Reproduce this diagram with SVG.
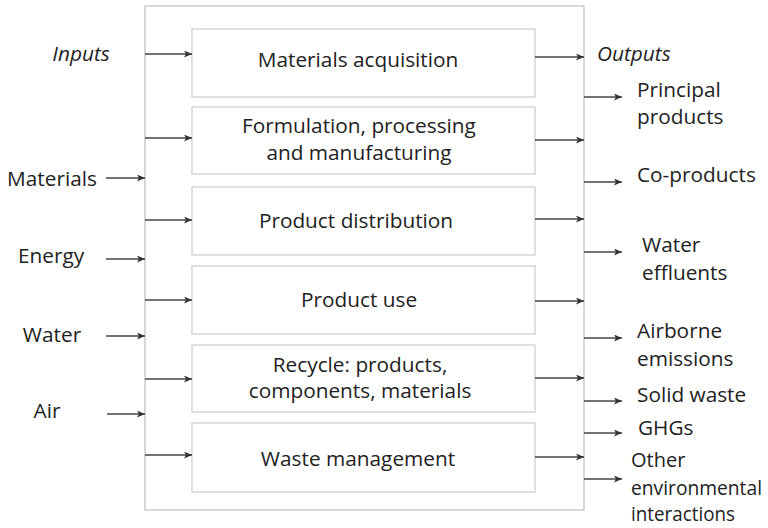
<svg xmlns="http://www.w3.org/2000/svg" width="768" height="528" viewBox="0 0 768 528">
<style>
.t{font-family:"Open Sans","Noto Sans","Liberation Sans",sans-serif;font-size:20.8px;fill:#222}
.s{font-size:20px}
.c{text-anchor:middle}
.i{font-style:italic}
.box{fill:#fff;stroke:#cfcfcf;stroke-width:1.3}
.outer{fill:#fff;stroke:#c4c4c4;stroke-width:1.3}
.a{stroke:#444;stroke-width:1.4;fill:none;marker-end:url(#ah)}
</style>
<defs>
<marker id="ah" markerUnits="userSpaceOnUse" markerWidth="9" markerHeight="8" refX="8" refY="3.5" orient="auto">
<path d="M0,0 L8,3.5 L0,7 L2,3.5 Z" fill="#333"/>
</marker>
</defs>
<rect width="768" height="528" fill="#fff"/>
<g id="frame"><rect class="outer" x="145" y="6" width="439" height="504"/></g>
<g id="n1"><rect class="box" x="192" y="29" width="343" height="68"/><text class="t c" x="358" y="67">Materials acquisition</text></g>
<g id="n2"><rect class="box" x="192" y="107" width="343" height="67"/><text class="t c" x="359" y="133">Formulation, processing</text><text class="t c" x="359" y="160">and manufacturing</text></g>
<g id="n3"><rect class="box" x="192" y="187" width="343" height="68"/><text class="t c" x="356" y="228">Product distribution</text></g>
<g id="n4"><rect class="box" x="192" y="266" width="343" height="68"/><text class="t c" x="359" y="307">Product use</text></g>
<g id="n5"><rect class="box" x="192" y="345" width="343" height="67"/><text class="t c" x="360" y="372">Recycle: products,</text><text class="t c" x="360" y="398">components, materials</text></g>
<g id="n6"><rect class="box" x="192" y="423" width="343" height="69"/><text class="t c" x="358" y="466">Waste management</text></g>
<g id="inputs">
<text class="t c i" x="81" y="61">Inputs</text>
<text class="t c" x="52" y="186">Materials</text>
<text class="t c" x="51" y="263">Energy</text>
<text class="t c" x="52" y="342">Water</text>
<text class="t c" x="47" y="418">Air</text>
</g>
<g id="outputs">
<text class="t i" x="597" y="61">Outputs</text>
<text class="t" x="637" y="97">Principal</text>
<text class="t" x="637" y="124">products</text>
<text class="t" x="637" y="182">Co-products</text>
<text class="t" x="642" y="252">Water</text>
<text class="t" x="642" y="280">effluents</text>
<text class="t" x="637" y="338">Airborne</text>
<text class="t" x="637" y="366">emissions</text>
<text class="t" x="637" y="402">Solid waste</text>
<text class="t" x="638" y="435">GHGs</text>
<text class="t s" x="631" y="467">Other</text>
<text class="t s" x="631" y="495" textLength="131" lengthAdjust="spacingAndGlyphs">environmental</text>
<text class="t s" x="631" y="521" textLength="104" lengthAdjust="spacingAndGlyphs">interactions</text>
</g>
<g id="connectors">
<line class="a" x1="106" y1="178" x2="145" y2="178"/>
<line class="a" x1="106" y1="259" x2="145" y2="259"/>
<line class="a" x1="106" y1="336" x2="145" y2="336"/>
<line class="a" x1="107" y1="414" x2="145" y2="414"/>
<line class="a" x1="145" y1="54" x2="192" y2="54"/>
<line class="a" x1="145" y1="138" x2="192" y2="138"/>
<line class="a" x1="145" y1="220" x2="192" y2="220"/>
<line class="a" x1="145" y1="300" x2="192" y2="300"/>
<line class="a" x1="145" y1="379" x2="192" y2="379"/>
<line class="a" x1="145" y1="455" x2="192" y2="455"/>
<line class="a" x1="535" y1="57" x2="584" y2="57"/>
<line class="a" x1="535" y1="140" x2="584" y2="140"/>
<line class="a" x1="535" y1="219" x2="584" y2="219"/>
<line class="a" x1="535" y1="301" x2="584" y2="301"/>
<line class="a" x1="535" y1="378" x2="584" y2="378"/>
<line class="a" x1="535" y1="457" x2="584" y2="457"/>
<line class="a" x1="584" y1="97" x2="622" y2="97"/>
<line class="a" x1="584" y1="182" x2="622" y2="182"/>
<line class="a" x1="584" y1="252" x2="622" y2="252"/>
<line class="a" x1="584" y1="338" x2="622" y2="338"/>
<line class="a" x1="584" y1="401" x2="622" y2="401"/>
<line class="a" x1="584" y1="433" x2="622" y2="433"/>
<line class="a" x1="584" y1="479" x2="622" y2="479"/>
</g>
</svg>
